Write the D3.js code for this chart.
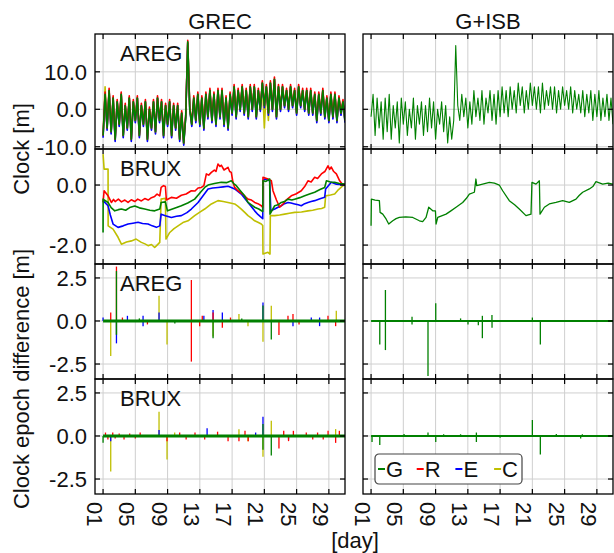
<!DOCTYPE html>
<html>
<head>
<meta charset="utf-8">
<script src="https://cdn.jsdelivr.net/npm/d3@7"></script>
<style>
   body { margin: 0; background: #fff; }
   text { font-family: "Liberation Sans", Arial, sans-serif; fill: #111; }
</style>
</head>
<body>
<svg id="chart" width="614" height="553"></svg>
<script>

// X TICKS (DAY OF MONTH)
var dayTicks = [1, 5, 9, 13, 17, 21, 25, 29];
var dayLabels = ['01', '05', '09', '13', '17', '21', '25', '29'];

// Y TICKS PER ROW
var clockAregTicks = [10, 0, -10];
var clockAregLabels = ['10.0', '0.0', '-10.0'];
var clockBruxTicks = [0, -2];
var clockBruxLabels = ['0.0', '-2.0'];
var diffTicks = [2.5, 0, -2.5];
var diffLabels = ['2.5', '0.0', '-2.5'];

// SYSTEMS & PANEL NAMES
var systems = ['G', 'R', 'E', 'C'];
var columns = ['GREC', 'G+ISB'];
var stations = ['AREG', 'BRUX', 'AREG', 'BRUX'];

// AREG CLOCK, ONE VALUE EVERY 6 HOURS FROM DAY 1 [m]
var aregStart = 1, aregStep = 0.25;
var areg_grec_G = [-7,4,-5,5,-6,3,-8,2,-4,4, -7,1,-5,3,-8,2,-3,3,-7,1, -4,2,-8,0,-5,2,-6,3,-3,2, -7,1,-4,2,-7,1,-5,1,-8,-1,
   -9,-2,18,0,-4,3,-3,4,-4,3, -5,4,-2,5,-3,4,-4,5,-2,5, -4,3,-5,4,-1,6,-2,5,0,6, -1,5,-2,6,0,6,-2,5,0,7,
   1,6,-1,7,0,8,-2,6,0,6, 1,5,0,6,1,5,-1,6,1,5, 0,5,-1,5,-1,4,-3,4,-1,5, -2,3,-3,4,-2,4,-3,3,-1,2, -3];
var areg_grec_R = [-7,4.6,-5,5.6,-6,3.6,-8,2.6,-4,4.6, -7,1.6,-5,3.6,-8,2.6,-3,3.6,-7,1.6, -4,2.6,-8,0.6,-5,2.6,-6,3.6,-3,2.6,
   -7,1.6,-4,2.6,-7,1.6,-5,1.6,-8,-0.4, -9,-1.4,18.4,0.6,-4,3.6,-3,4.6,-4,3.6, -5,4.6,-2,5.6,-3,4.6,-4,5.6,-2,5.6,
   -4,3.6,-5,4.6,-1,6.6,-2,5.6,0,6.6, -1,5.6,-2,6.6,0,6.6,-2,5.6,0,7.6, 1,6.6,-1,7.6,0,8.6,-2,6.6,0,6.6,
   1,5.6,0,6.6,1,5.6,-1,6.6,1,5.6, 0,5.6,-1,5.6,-1,4.6,-3,4.6,-1,5.6, -2,3.6,-3,4.6,-2,4.6,-3,3.6,-1,2.6, -3];
var areg_grec_E = [-7.6,4,-5.6,5,-6.6,3,-8.6,2,-4.6,4, -7.6,1,-5.6,3,-8.6,2,-3.6,3,-7.6,1, -4.6,2,-8.6,0,-5.6,2,-6.6,3,-3.6,2,
   -7.6,1,-4.6,2,-7.6,1,-5.6,1,-8.6,-1, -9.6,-2,17.6,0,-4.6,3,-3.6,4,-4.6,3, -5.6,4,-2.6,5,-3.6,4,-4.6,5,-2.6,5,
   -4.6,3,-5.6,4,-1.6,6,-2.6,5,-0.6,6, -1.6,5,-2.6,6,-0.6,6,-2.6,5,-0.6,7, 0.4,6,-1.6,7,-0.6,8,-2.6,6,-0.6,6,
   0.4,5,-0.6,6,0.4,5,-1.6,6,0.4,5, -0.6,5,-1.6,5,-1.6,4,-3.6,4,-1.6,5, -2.6,3,-3.6,4,-2.6,4,-3.6,3,-1.6,2, -3.6];
var areg_grec_C = [-7.3,6,-5.3,5,-6.3,3,-8.3,2,-4.3,4, -7.3,1,-5.3,3,-8.3,2,-3.3,3,-7.3,1, -4.3,2,-8.3,0,-5.3,2,-6.3,3,-3.3,2,
   -7.3,1,-4.3,2,-7.3,1,-5.3,1,-8.3,-1, -9.3,-2,17.8,0,-4.3,3,-3.3,4,-4.3,3, -5.3,4,-2.3,5,-3.3,4,-4.3,5,-2.3,5,
   -4.3,3,-5.3,4,-1.3,6,-2.3,5,-0.3,6, -1.3,5,-2.3,6,-0.3,6,-2.3,5,-0.3,7, -5,6,-3,7,-0.3,8,-2.3,6,-0.3,6,
   0.7,5,-0.3,6,0.7,5,-1.3,6,0.7,5, -0.3,5,-1.3,5,-1.3,4,-3.3,4,-1.3,5, -2.3,3,-3.3,4,-2.3,4,-3.3,3,-1.3,2, -3.3];
var areg_isb_G = [-2,4,-7,3,-5,2,-8,3,-6,4, -8,1,-5,2,-9,3,-4,2,-7,0, -5,3,-8,1,-4,2,-7,1,-6,3, -5,2,-8,0,-4,2,-6,1,-9,-2,
   -8,-3,17,1,-3,4,-2,3,-5,2, -4,5,-2,3,-3,5,-4,3,-1,5, -3,4,-4,5,-2,6,-1,5,-2,6, 0,5,-1,7,1,6,-1,5,0,7,
   1,6,0,6,-1,7,0,5,1,6, 0,6,-1,5,0,6,1,5,0,6, -1,5,0,4,-1,5,-2,4,-1,5, -3,4,-2,5,-3,3,-2,4,-3,3, -4];

// BRUX CLOCK [day, m]
var brux_grec_G = [[1.0,-1.58],[1.01,-0.47],[1.13,-0.5],[1.62,-0.58],[2.0,-0.75],[2.45,-0.86],[2.9,-0.82],[3.28,-0.8],
   [3.8,-0.84],[4.3,-0.75],[4.93,-0.7],[5.5,-0.76],[6.17,-0.8],[6.8,-0.84],[7.4,-0.86],[8.03,-0.8],[8.2,-0.58],[8.73,-0.56],
   [8.98,-0.86],[9.6,-0.8],[10.2,-0.74],[10.71,-0.69],[11.5,-0.6],[12.36,-0.47],[12.9,-0.3],[13.6,-0.08],[14.02,0.0],
   [14.8,0.05],[15.66,0.09],[16.3,0.08],[16.9,0.14],[17.2,0.05],[17.52,-0.02],[18.0,-0.18],[18.55,-0.36],[18.97,-0.58],
   [19.4,-0.66],[19.8,-0.74],[20.3,-0.8],[20.8,-0.88],[20.83,0.14],[21.2,0.12],[21.66,0.2],[21.7,-0.97],[22.28,-0.69],
   [22.7,-0.66],[23.1,-0.58],[23.5,-0.55],[23.93,-0.47],[24.4,-0.5],[24.76,-0.47],[25.4,-0.42],[26.0,-0.36],[26.6,-0.3],
   [27.24,-0.24],[27.9,-0.15],[28.48,-0.08],[28.7,0.14],[29.2,0.1],[29.72,0.09],[30.3,0.05],[31.0,0.03]];
var brux_grec_R = [[1.0,-0.58],[1.13,-0.19],[1.4,-0.28],[1.62,-0.36],[2.03,-0.58],[2.3,-0.48],[2.5,-0.55],[2.9,-0.47],
   [3.28,-0.56],[3.7,-0.5],[4.1,-0.58],[4.5,-0.49],[4.93,-0.55],[5.3,-0.47],[5.75,-0.53],[6.17,-0.45],[6.6,-0.5],[7.0,-0.42],
   [7.4,-0.38],[7.7,-0.3],[8.03,-0.36],[8.2,-0.08],[8.5,-0.02],[8.73,-0.05],[8.85,-0.5],[9.2,-0.45],[9.47,-0.41],[10.1,-0.44],
   [10.71,-0.34],[11.3,-0.3],[11.95,-0.19],[12.4,-0.2],[12.78,-0.1],[13.19,-0.08],[13.5,-0.02],[13.81,0.37],[14.1,0.33],
   [14.43,0.42],[14.8,0.5],[15.0,0.45],[15.25,0.7],[15.5,0.62],[15.66,0.66],[16.0,0.5],[16.49,0.59],[16.7,0.45],[16.9,0.42],
   [17.1,0.1],[17.32,-0.08],[17.73,-0.19],[18.3,-0.3],[18.97,-0.47],[19.4,-0.5],[19.8,-0.58],[20.2,-0.62],[20.62,-0.69],
   [20.8,-0.75],[20.83,0.26],[21.45,0.2],[21.87,0.14],[22.07,-0.19],[22.5,-0.5],[22.9,-0.74],[23.31,-0.63],[23.7,-0.5],
   [24.34,-0.36],[24.9,-0.3],[25.58,-0.19],[26.0,-0.05],[26.41,0.14],[26.8,0.1],[27.24,0.26],[27.6,0.22],[28.07,0.37],
   [28.5,0.45],[28.89,0.64],[29.1,0.52],[29.3,0.6],[29.6,0.45],[29.93,0.37],[30.34,0.14],[30.6,0.05],[31.0,0.0]];
var brux_grec_E = [[1.0,-0.52],[1.62,-0.69],[1.9,-1.0],[2.24,-1.3],[2.86,-1.41],[3.5,-1.36],[4.1,-1.3],[4.7,-1.27],
   [5.34,-1.24],[5.9,-1.28],[6.58,-1.3],[7.1,-1.36],[7.61,-1.41],[8.03,-1.36],[8.2,-0.97],[8.73,-1.02],[9.47,-1.08],
   [10.1,-1.04],[10.71,-1.02],[11.4,-0.92],[11.95,-0.8],[12.78,-0.58],[13.4,-0.36],[14.02,-0.13],[14.6,-0.1],[15.25,-0.08],
   [15.9,-0.06],[16.49,-0.04],[16.9,-0.08],[17.32,-0.13],[18.14,-0.3],[18.97,-0.58],[19.4,-0.72],[19.8,-0.86],[20.2,-0.98],
   [20.62,-1.08],[20.8,-1.12],[20.83,0.14],[21.04,0.2],[21.66,0.14],[21.8,-0.86],[22.28,-0.8],[22.7,-0.74],[23.1,-0.69],
   [23.5,-0.62],[23.93,-0.58],[24.3,-0.6],[24.76,-0.63],[25.2,-0.66],[25.58,-0.69],[26.0,-0.62],[26.41,-0.58],[26.8,-0.55],
   [27.24,-0.52],[27.9,-0.46],[28.48,-0.41],[28.6,-0.13],[29.3,0.09],[29.93,0.03],[31.0,0.0]];
var brux_grec_C = [[1.0,1.03],[1.13,0.53],[1.62,0.53],[1.63,-1.36],[2.24,-1.47],[2.86,-1.74],[3.28,-1.97],[3.9,-1.9],
   [4.52,-1.86],[5.1,-1.8],[5.75,-1.91],[6.2,-1.96],[6.58,-2.02],[7.0,-1.98],[7.4,-2.08],[7.7,-2.0],[8.03,-1.91],[8.2,-0.47],
   [8.73,-0.44],[8.8,-1.8],[9.27,-1.58],[9.8,-1.45],[10.3,-1.36],[10.9,-1.25],[11.54,-1.19],[12.36,-1.02],[13.0,-0.9],
   [13.6,-0.8],[14.43,-0.63],[15.25,-0.52],[15.9,-0.55],[16.49,-0.58],[17.32,-0.63],[17.7,-0.7],[18.14,-0.8],[18.6,-0.92],
   [18.97,-1.02],[19.4,-1.1],[19.8,-1.19],[20.2,-1.24],[20.62,-1.3],[20.8,-1.35],[20.83,-2.3],[21.45,-2.24],[21.7,-2.3],
   [21.74,-1.02],[22.28,-1.02],[22.9,-1.0],[23.52,-0.97],[24.1,-0.94],[24.76,-0.91],[25.6,-0.9],[26.41,-0.86],[27.0,-0.84],
   [27.65,-0.8],[28.1,-0.78],[28.48,-0.74],[28.6,-0.36],[29.2,-0.33],[29.72,-0.3],[30.2,-0.15],[30.75,-0.02],[31.0,0.0]];
var brux_isb_G = [[1.0,-1.36],[1.04,-0.47],[1.5,-0.5],[2.03,-0.52],[2.12,-0.91],[2.45,-0.97],[2.86,-1.13],[3.19,-1.3],
   [3.69,-1.19],[4.1,-1.12],[4.51,-1.08],[5.3,-1.06],[6.17,-1.08],[6.99,-1.19],[7.4,-1.22],[7.82,-1.08],[8.15,-0.74],
   [8.65,-0.86],[8.98,-0.86],[9.06,-1.3],[9.27,-1.08],[10.3,-0.97],[10.9,-0.86],[11.54,-0.74],[12.36,-0.58],[12.8,-0.45],
   [13.19,-0.3],[13.81,-0.24],[14.0,0.2],[14.1,-0.02],[14.84,0.03],[15.67,0.09],[16.3,0.06],[16.9,0.0],[17.32,-0.19],
   [18.14,-0.52],[18.8,-0.66],[19.38,-0.8],[20.21,-1.02],[20.83,-0.97],[20.95,0.09],[21.45,0.03],[21.87,0.14],[21.95,-0.97],
   [22.49,-0.74],[23.1,-0.63],[23.93,-0.58],[24.76,-0.52],[25.58,-0.58],[26.41,-0.47],[26.8,-0.35],[27.24,-0.24],
   [28.07,-0.13],[28.5,-0.05],[28.89,0.11],[29.72,0.03],[30.4,0.06],[31.0,0.03]];

// CLOCK EPOCH DIFFERENCE OUTLIERS [day, m]
var epochSpan = [1, 31];
var diff_areg_grec_G = [[2.66,2.9],[2.66,-0.8],[14.64,-1.0],[20.83,0.9],[21.86,-1.07],[5.5,0.15],[9.9,-0.15],[18.2,0.15]];
var diff_areg_grec_R = [[1.95,0.5],[2.66,3.16],[3.4,0.2],[6.5,-0.2],[11.95,2.38],[11.95,-2.36],[12.98,-0.3],[13.3,0.3],
   [14.64,0.5],[15.79,-0.4],[16.8,0.2],[22.81,-0.81],[23.93,0.3],[24.55,0.4],[25.3,-0.2],[28.89,0.3],[29.84,-0.3]];
var diff_areg_grec_E = [[1.0,0.2],[2.66,-1.3],[4.02,0.3],[5.96,0.3],[5.96,-0.3],[7.94,0.5],[13.5,0.3],[14.64,0.64],
   [15.79,0.5],[20.83,1.07],[24.55,-0.3],[26.82,0.2],[27.85,-0.3],[27.85,0.2]];
var diff_areg_grec_C = [[1.95,-2.03],[2.66,-0.8],[7.94,1.47],[8.93,-1.36],[14.64,-0.9],[17.85,0.4],[18.97,-0.3],
   [20.83,-1.2],[21.86,0.89],[29.92,0.6]];
var diff_brux_grec_G = [[1.0,-0.4],[20.83,0.7],[20.83,-0.8],[21.86,-1.14]];
var diff_brux_grec_R = [[1.3,0.2],[1.6,-0.2],[2.2,0.2],[2.5,-0.15],[3.0,0.15],[3.6,-0.2],[4.3,0.15],[5.0,-0.15],[5.6,0.2],
   [8.93,-0.3],[10.5,0.2],[11.3,-0.2],[12.4,0.2],[13.6,-0.2],[15.2,0.25],[16.5,-0.3],[17.85,-0.3],[18.6,0.3],[19.0,-0.3],
   [22.81,-0.72],[23.4,0.3],[24.0,-0.3],[24.6,0.3],[26.2,0.2],[27.0,-0.2],[27.6,0.2],[28.3,-0.2],[28.9,0.3],[29.84,-0.4],
   [30.3,0.3]];
var diff_brux_grec_E = [[1.95,-0.3],[7.94,0.35],[13.9,0.45],[19.92,0.2],[20.83,1.12],[24.0,-0.2]];
var diff_brux_grec_C = [[1.95,-2.07],[7.94,1.41],[8.93,-1.36],[9.88,0.2],[17.85,0.39],[18.97,-0.3],[20.83,-1.2],
   [21.86,0.89],[29.84,0.4]];
var diff_areg_isb_G = [[2.08,-1.36],[2.78,1.8],[2.78,-1.69],[6.08,0.25],[6.08,-0.2],[8.06,-3.2],[9.02,1.03],[12.1,0.15],
   [13.02,-0.2],[14.3,-0.25],[14.8,-1.0],[14.8,0.3],[15.99,0.35],[16.0,-0.4],[21.0,0.2],[21.99,-1.36]];
var diff_brux_isb_G = [[1.12,-0.35],[2.08,-0.52],[5.09,0.12],[8.06,0.2],[9.02,-0.35],[10.0,0.1],[12.1,0.1],[14.06,-0.35],
   [14.06,0.2],[17.0,-0.1],[21.0,0.93],[21.99,-1.07],[23.97,0.12],[26.99,-0.15],[27.2,0.1]];

// SETTINGS
var settings = {
   cols: [95, 363],
   width: 250,
   rows: [34, 149, 264, 379],
   height: 115,
   font: 22,
   tick: 5,
   grid: '#cfcfcf',
   color: { G: '#008000', R: '#ff0000', E: '#0000ff', C: '#bfbf00' },
   // DRAWING ORDER -- GPS LAST SO IT SITS ON TOP
   order: ['C', 'E', 'R', 'G']
};

// Y DOMAINS PER ROW
var yDomains = [[-10.6, 20.1], [-2.63, 1.2], [-3.37, 3.31], [-3.37, 3.31]];
var yTickSets = [[clockAregTicks, clockAregLabels], [clockBruxTicks, clockBruxLabels], [diffTicks, diffLabels], [diffTicks, diffLabels]];

// SERIES PER PANEL [row][col]
var panels = [
   [{ G: areg_grec_G, R: areg_grec_R, E: areg_grec_E, C: areg_grec_C }, { G: areg_isb_G }],
   [{ G: brux_grec_G, R: brux_grec_R, E: brux_grec_E, C: brux_grec_C }, { G: brux_isb_G }],
   [{ G: diff_areg_grec_G, R: diff_areg_grec_R, E: diff_areg_grec_E, C: diff_areg_grec_C }, { G: diff_areg_isb_G }],
   [{ G: diff_brux_grec_G, R: diff_brux_grec_R, E: diff_brux_grec_E, C: diff_brux_grec_C }, { G: diff_brux_isb_G }]
];

var svg = d3.select('#chart');
var defs = svg.append('defs');

// TURN AN AREG VALUE LIST INTO [DAY, VALUE] PAIRS
function epochs(values) {
   return values.map((v, i) => [aregStart + i * aregStep, v]);
}

// DRAW ONE PANEL
function draw_panel(row, col) {

   var x0 = settings.cols[col], y0 = settings.rows[row];
   var w = settings.width, h = settings.height;

   var xScale = d3.scaleLinear().domain([0, 31]).range([x0, x0 + w]);
   var yScale = d3.scaleLinear().domain(yDomains[row]).range([y0 + h, y0]);
   var ticks = yTickSets[row][0], labels = yTickSets[row][1];

   // GRID
   var grid = svg.append('g');
   grid.selectAll('line.gx').data(dayTicks).enter().append('line')
      .attr('x1', d => xScale(d)).attr('x2', d => xScale(d))
      .attr('y1', y0).attr('y2', y0 + h)
      .attr('stroke', settings.grid).attr('stroke-width', 1);
   grid.selectAll('line.gy').data(ticks).enter().append('line')
      .attr('x1', x0).attr('x2', x0 + w)
      .attr('y1', d => yScale(d)).attr('y2', d => yScale(d))
      .attr('stroke', settings.grid).attr('stroke-width', 1);

   // CLIP
   var clipId = 'clip-' + row + '-' + col;
   defs.append('clipPath').attr('id', clipId)
      .append('rect').attr('x', x0).attr('y', y0).attr('width', w).attr('height', h);
   var plot = svg.append('g').attr('clip-path', 'url(#' + clipId + ')');

   var series = panels[row][col];
   var line = d3.line().x(d => xScale(d[0])).y(d => yScale(d[1]));

   settings.order.forEach(sys => {
      if (!series[sys]) return;
      var color = settings.color[sys];

      if (row == 0) {
         // AREG CLOCK
         plot.append('path')
            .attr('d', line(epochs(series[sys])))
            .attr('fill', 'none').attr('stroke', color)
            .attr('stroke-width', col == 0 ? 1.6 : 1.1)
            .attr('stroke-linejoin', 'round');
      } else if (row == 1) {
         // BRUX CLOCK
         plot.append('path')
            .attr('d', line(series[sys]))
            .attr('fill', 'none').attr('stroke', color)
            .attr('stroke-width', col == 0 ? 1.6 : 1.3)
            .attr('stroke-linejoin', 'round');
      } else {
         // EPOCH DIFFERENCE -- ZERO LEVEL FOR GPS, THEN OUTLIER SPIKES
         if (sys == 'G') {
            plot.append('line')
               .attr('x1', xScale(epochSpan[0])).attr('x2', xScale(epochSpan[1]))
               .attr('y1', yScale(0)).attr('y2', yScale(0))
               .attr('stroke', color).attr('stroke-width', col == 0 ? 3 : 2.2);
         }
         plot.selectAll('line.s-' + sys).data(series[sys]).enter().append('line')
            .attr('class', 's-' + sys)
            .attr('x1', d => xScale(d[0])).attr('x2', d => xScale(d[0]))
            .attr('y1', yScale(0)).attr('y2', d => yScale(d[1]))
            .attr('stroke', color).attr('stroke-width', 1.3);
      }
   });

   // TICKS -- INWARD ON ALL SIDES
   var tk = svg.append('g').attr('stroke', '#000').attr('stroke-width', 1.2);
   dayTicks.forEach(d => {
      tk.append('line').attr('x1', xScale(d)).attr('x2', xScale(d)).attr('y1', y0).attr('y2', y0 + settings.tick);
      tk.append('line').attr('x1', xScale(d)).attr('x2', xScale(d)).attr('y1', y0 + h).attr('y2', y0 + h - settings.tick);
   });
   ticks.forEach(t => {
      tk.append('line').attr('x1', x0).attr('x2', x0 + settings.tick).attr('y1', yScale(t)).attr('y2', yScale(t));
      tk.append('line').attr('x1', x0 + w).attr('x2', x0 + w - settings.tick).attr('y1', yScale(t)).attr('y2', yScale(t));
   });

   // FRAME
   svg.append('rect')
      .attr('x', x0).attr('y', y0).attr('width', w).attr('height', h)
      .attr('fill', 'none').attr('stroke', '#000').attr('stroke-width', 1.3);

   // Y LABELS ON LEFT COLUMN ONLY
   if (col == 0) {
      svg.selectAll(null).data(ticks).enter().append('text')
         .attr('x', x0 - 8).attr('y', d => yScale(d))
         .attr('dy', '0.36em')
         .attr('text-anchor', 'end')
         .attr('font-size', settings.font)
         .text((d, i) => labels[i]);

      // STATION NAME
      svg.append('text')
         .attr('x', x0 + 25).attr('y', y0 + 27)
         .attr('font-size', settings.font)
         .text(stations[row]);
   }

   // X LABELS ON BOTTOM ROW
   if (row == 3) {
      svg.selectAll(null).data(dayTicks).enter().append('text')
         .attr('transform', d => 'translate(' + (xScale(d) - 16) + ',' + (y0 + h + 8) + ') rotate(90)')
         .attr('font-size', settings.font)
         .text((d, i) => dayLabels[i]);
   }

   // COLUMN TITLE
   if (row == 0) {
      svg.append('text')
         .attr('x', x0 + w / 2).attr('y', 29)
         .attr('text-anchor', 'middle')
         .attr('font-size', settings.font)
         .text(columns[col]);
   }

   // LEGEND IN LAST PANEL
   if (row == 3 && col == 1) {
      var lg = svg.append('g').attr('transform', 'translate(375,454)');
      lg.append('rect').attr('width', 147).attr('height', 30).attr('rx', 4)
         .attr('fill', '#fff').attr('stroke', '#444').attr('stroke-width', 1.2);
      systems.forEach((sys, i) => {
         var lx = 3 + i * 38.7;
         lg.append('line').attr('x1', lx).attr('x2', lx + 7).attr('y1', 15).attr('y2', 15)
            .attr('stroke', settings.color[sys]).attr('stroke-width', 2);
         lg.append('text').attr('x', lx + 8).attr('y', 23)
            .attr('font-size', settings.font)
            .text(sys);
      });
   }
}

// LOOP THROUGH ALL PANELS
for (var r = 0; r < 4; r++) {
   for (var c = 0; c < 2; c++) { draw_panel(r, c); }
}

// AXIS TITLES
svg.append('text')
   .attr('transform', 'translate(29,149) rotate(-90)')
   .attr('text-anchor', 'middle')
   .attr('font-size', settings.font)
   .text('Clock [m]');

svg.append('text')
   .attr('transform', 'translate(29,379) rotate(-90)')
   .attr('text-anchor', 'middle')
   .attr('font-size', settings.font)
   .text('Clock epoch difference [m]');

svg.append('text')
   .attr('x', 355).attr('y', 548)
   .attr('text-anchor', 'middle')
   .attr('font-size', settings.font)
   .text('[day]');

</script>
</body>
</html>
